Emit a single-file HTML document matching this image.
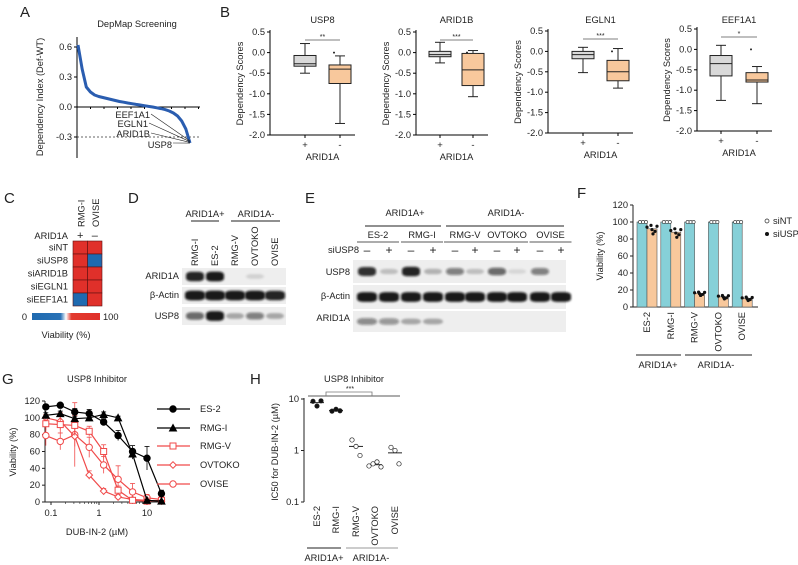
<!DOCTYPE html>
<html><head><meta charset="utf-8"><style>
html,body{margin:0;padding:0;background:#fff}
svg{display:block;font-family:"Liberation Sans",Arial,sans-serif}
</style></head><body>
<svg id="fig" width="798" height="565" viewBox="0 0 798 565" xmlns="http://www.w3.org/2000/svg">
<defs>
<filter id="blur" x="-30%" y="-60%" width="160%" height="220%"><feGaussianBlur stdDeviation="1.1"/></filter>
<linearGradient id="cbar" x1="0" x2="1" y1="0" y2="0">
<stop offset="0" stop-color="#1f6ab0"/><stop offset="0.42" stop-color="#2a72b6"/><stop offset="0.5" stop-color="#ffffff"/><stop offset="0.58" stop-color="#e23a2e"/><stop offset="1" stop-color="#e0302a"/></linearGradient>
</defs>
<g font-size="15" fill="#222">
<text x="20" y="17">A</text>
<text x="220" y="17">B</text>
<text x="4" y="203">C</text>
<text x="128" y="203">D</text>
<text x="305" y="203">E</text>
<text x="577" y="198">F</text>
<text x="2" y="384">G</text>
<text x="250" y="384">H</text>
</g>
<g id="pA"></g>
<g id="pB"></g>
<g id="pC"></g>
<g id="pD"></g>
<g id="pE"></g>
<g id="pF"></g>
<g id="pG"></g>
<g id="pH"></g>
</svg>
<script>
// ---------- DATA ----------
const depIndexValues = [0.62,0.38,0.2,0.15,0.12,0.105,0.095,0.085,0.075,0.065,0.055,0.048,0.04,0.033,0.026,0.02,0.013,0.006,0.0,-0.008,-0.016,-0.026,-0.04,-0.06,-0.09,-0.14,-0.22,-0.36];
const depTicks = [0.6,0.3,0.0,-0.3];
const depTickLabels = ["0.6","0.3","0.0","-0.3"];
const depGenes = ["EEF1A1","EGLN1","ARID1B","USP8"];

const boxGenes = ["USP8","ARID1B","EGLN1","EEF1A1"];
const boxSig = ["**","***","***","*"];
// [min,q1,median,q3,max]
const boxPlus = [[-0.5,-0.33,-0.27,-0.07,0.22],[-0.25,-0.1,-0.05,0.03,0.25],[-0.52,-0.18,-0.08,0.0,0.1],[-1.25,-0.65,-0.35,-0.15,0.1]];
const boxMinus = [[-1.72,-0.75,-0.4,-0.3,-0.08],[-1.07,-0.8,-0.42,-0.02,0.05],[-0.9,-0.72,-0.5,-0.22,0.07],[-1.33,-0.8,-0.75,-0.57,-0.42]];
const boxOutMinus = [0.0,0.0,0.0,0.0];
const boxTicks = [0.5,0.0,-0.5,-1.0,-1.5,-2.0];
const boxTickLabels = ["0.5","0.0","-0.5","-1.0","-1.5","-2.0"];

const heatRows = ["siNT","siUSP8","siARID1B","siEGLN1","siEEF1A1"];
const heatCols = ["RMG-I","OVISE"];
const heatVals = [[100,100],[100,0],[100,100],[100,100],[0,100]];

const fLines = ["ES-2","RMG-I","RMG-V","OVTOKO","OVISE"];
const fSiNT = [100,100,100,100,100];
const fSiUSP8 = [92,88,16,12,10];
const fTicks = [0,20,40,60,80,100,120];

const gConc = [0.078,0.156,0.3125,0.625,1.25,2.5,5,10,20];
const gNames = ["ES-2","RMG-I","RMG-V","OVTOKO","OVISE"];
const gES2 = [113,115,107,105,95,79,60,52,10];
const gRMGI = [103,105,99,100,104,100,57,2,1];
const gRMGV = [93,92,91,84,60,14,2,1,2];
const gOVTOKO = [100,96,78,32,13,6,3,2,1];
const gOVISE = [79,72,80,65,44,27,12,5,3];
const gErrES2 = [3,2,4,5,4,6,7,14,4];
const gErrRMGI = [3,3,3,4,3,2,6,1,1];
const gErrRMGV = [8,10,12,6,8,5,2,1,2];
const gErrOVTOKO = [4,10,12,5,3,3,2,1,1];
const gErrOVISE = [12,10,38,12,10,16,10,4,3];
const gTicks = [0,20,40,60,80,100,120];
const gXTicks = [0.1,1,10];
const gXTickLabels = ["0.1","1","10"];

const hLines = ["ES-2","RMG-I","RMG-V","OVTOKO","OVISE"];
const hPoints = [[9,7.3,9.2],[5.8,6.3,5.9],[1.6,1.2,0.8],[0.5,0.55,0.6,0.48],[1.15,1.0,0.55]];
const hMeans = [8.5,6.0,1.2,0.53,0.9];

// ---------- HELPERS ----------
const NS="http://www.w3.org/2000/svg";
const FS=9.3;
function mk(tag,parent,attrs){const e=document.createElementNS(NS,tag);for(const k in attrs)e.setAttribute(k,attrs[k]);parent.appendChild(e);return e;}
function txt(parent,x,y,s,size,anchor,attrs){const t=mk('text',parent,Object.assign({x:x,y:y,'font-size':size,'text-anchor':anchor||'start',fill:'#222'},attrs||{}));t.textContent=s;return t;}
function rtxt(parent,x,y,s,size,anchor){const t=txt(parent,0,0,s,size,anchor||'end',{transform:`translate(${x},${y}) rotate(-90)`});return t;}

// ---------- A ----------
(function(){
const g=document.getElementById('pA');
const ax=77, y0=107, k=100, xr=[78,190];
const y=v=>y0-v*k;
const x=i=>xr[0]+(xr[1]-xr[0])*i/(depIndexValues.length-1);
let t=txt(g,137,27,"DepMap  Screening",FS,'middle');

let l=mk('line',g,{x1:ax,y1:37,x2:ax,y2:158,stroke:'#000','stroke-width':1});

l=mk('line',g,{x1:ax,y1:y0,x2:200,y2:y0,stroke:'#000','stroke-width':1});

for(let i=0;i<10;i++){const tk=mk('line',g,{x1:ax+i*13.5,y1:y0,x2:ax+i*13.5,y2:y0+2,stroke:'#000'});}
l=mk('line',g,{x1:ax,y1:y(-0.3),x2:200,y2:y(-0.3),stroke:'#333','stroke-dasharray':'2,2','stroke-width':0.7});

depTicks.forEach((v,i)=>{const tk=mk('line',g,{x1:ax-3,y1:y(v),x2:ax,y2:y(v),stroke:'#000'});
const tl=txt(g,ax-5,y(v)+3,depTickLabels[i],FS,'end');});
const yl=rtxt(g,43,97,"Dependency Index  (Def-WT)",FS,'middle');
const p=mk('polyline',g,{points:depIndexValues.map((v,i)=>x(i)+','+y(v)).join(' '),fill:'none',stroke:'#2a5db0','stroke-width':3,'stroke-linejoin':'round'});

const ly=[118,127,137,148], lx=[150,148,150,172];
depGenes.forEach((s,i)=>{const tl=txt(g,lx[i],ly[i],s,FS,'end');
const ln=mk('line',g,{x1:lx[i]+1,y1:ly[i]-4+(i==3?-1:0),x2:190,y2:y(-0.3)+4+i*0.7,stroke:'#222','stroke-width':0.6});});
})();

// ---------- B ----------
(function(){
const g=document.getElementById('pB');
const axX=[270,416,548,697], y05=[32,32,31,29], yM2=[135,135,133,131], xp=[305,440,583,721], xm=[340,473,618,757];
boxGenes.forEach((gene,i)=>{
const y=v=>y05[i]+(0.5-v)*(yM2[i]-y05[i])/2.5;
let t=txt(g,(xp[i]+xm[i])/2,23,gene,FS,'middle');
let l=mk('line',g,{x1:axX[i],y1:y05[i]-2,x2:axX[i],y2:yM2[i],stroke:'#000'});
l=mk('line',g,{x1:axX[i],y1:yM2[i],x2:xm[i]+15,y2:yM2[i],stroke:'#000'});
boxTicks.forEach((v,j)=>{const tk=mk('line',g,{x1:axX[i]-3,y1:y(v),x2:axX[i],y2:y(v),stroke:'#000'});
const tl=txt(g,axX[i]-5,y(v)+3,boxTickLabels[j],FS,'end');});
const yl=rtxt(g,axX[i]-27,(y05[i]+yM2[i])/2,"Dependency Scores",FS,'middle');
[[xp[i],'+'],[xm[i],'-']].forEach(([xx,s])=>{const tk=mk('line',g,{x1:xx,y1:yM2[i],x2:xx,y2:yM2[i]+3,stroke:'#000'});
const tl=txt(g,xx,yM2[i]+13,s,9.5,'middle');});
const xl=txt(g,(xp[i]+xm[i])/2,yM2[i]+25,"ARID1A",FS,'middle');
const sl=mk('line',g,{x1:xp[i],y1:y(0.5)+8,x2:xm[i],y2:y(0.5)+8,stroke:'#555','stroke-width':0.8});
const st=txt(g,(xp[i]+xm[i])/2,y(0.5)+7,boxSig[i],7,'middle');
[[boxPlus[i],xp[i],'#d9d9d9','plus'],[boxMinus[i],xm[i],'#f8c89c','minus']].forEach(([s,xx,fill,nm])=>{
const w=11;
const wk=mk('line',g,{x1:xx,y1:y(s[4]),x2:xx,y2:y(s[0]),stroke:'#222'});
[s[0],s[4]].forEach(v=>{const c=mk('line',g,{x1:xx-5,y1:y(v),x2:xx+5,y2:y(v),stroke:'#222'});});
const r=mk('rect',g,{x:xx-w,y:y(s[3]),width:2*w,height:y(s[1])-y(s[3]),fill:fill,stroke:'#222'});
const m=mk('line',g,{x1:xx-w,y1:y(s[2]),x2:xx+w,y2:y(s[2]),stroke:'#222'});
});
const o=mk('circle',g,{cx:xm[i]-6,cy:y(boxOutMinus[i]),r:1,fill:'#222'});
});
})();

// ---------- C ----------
(function(){
const g=document.getElementById('pC');
const x0=73,cw=14.5,y0=241,rh=13;
const col=v=>v>50?'#e0302a':'#1f6ab0';
heatCols.forEach((c,j)=>{const t=rtxt(g,x0+cw*j+cw/2+4,227,c,FS,'start');});
let t=txt(g,68,239,"ARID1A",FS,'end');
t=txt(g,x0+cw/2,239,"+",11,'middle');
t=txt(g,x0+cw*1.5,239,"–",11,'middle');
heatRows.forEach((r,i)=>{const tl=txt(g,68,y0+rh*i+9.5,r,FS,'end');
heatVals[i].forEach((v,j)=>{const c=mk('rect',g,{x:x0+cw*j,y:y0+rh*i,width:cw,height:rh,fill:col(v),stroke:'#5a1010','stroke-width':0.6});});});
const b=mk('rect',g,{x:32,y:313,width:68,height:7,fill:'url(#cbar)'});
t=txt(g,27,320,"0",FS,'end');
t=txt(g,103,320,"100",FS,'start');
t=txt(g,66,338,"Viability (%)",FS,'middle');
})();

// ---------- Western blot helper ----------
function blotRow(g,x0,x1,y0,h,lanes,intens,bw,name){
const bg=mk('rect',g,{x:x0,y:y0,width:x1-x0,height:h,fill:'#eeeeee'});
lanes.forEach((lx,i)=>{if(intens[i]<=0)return;const a=intens[i];
const e=mk('rect',g,{x:lx-bw,y:y0+h/2-(2+a*3),width:2*bw,height:2*(2+a*3),rx:bw*0.6,ry:3,fill:'#111','fill-opacity':a,filter:'url(#blur)'});});
}

// ---------- D ----------
(function(){
const g=document.getElementById('pD');
const lanes=[195,215,235,255,275], names=["RMG-I","ES-2","RMG-V","OVTOKO","OVISE"];
let t=txt(g,205,217,"ARID1A+",FS,'middle');
t=txt(g,256,217,"ARID1A-",FS,'middle');
let l=mk('line',g,{x1:191,y1:221,x2:219,y2:221,stroke:'#222'});
l=mk('line',g,{x1:231,y1:221,x2:280,y2:221,stroke:'#222'});
names.forEach((n,i)=>{const tl=rtxt(g,lanes[i]+3,266,n,FS,'start');});
blotRow(g,182,286,268,17,lanes,[0.9,0.95,0,0.12,0],9,'d-arid1a');
blotRow(g,182,286,287,17,lanes,[0.95,0.95,0.95,0.95,0.9],10,'d-actin');
blotRow(g,182,286,307,18,lanes,[0.6,0.95,0.3,0.5,0.3],9,'d-usp8');
[["ARID1A",279],["β-Actin",298],["USP8",319]].forEach(([s,yy])=>{const tl=txt(g,179,yy,s,FS,'end');});
})();

// ---------- E ----------
(function(){
const g=document.getElementById('pE');
const lanes=[367,389,411,433,455,475,497,517,540,561];
let t=txt(g,405,216,"ARID1A+",FS,'middle');
t=txt(g,506,216,"ARID1A-",FS,'middle');
let l=mk('line',g,{x1:365,y1:226,x2:441,y2:226,stroke:'#222'});
l=mk('line',g,{x1:446,y1:226,x2:564,y2:226,stroke:'#222'});
const cl=["ES-2","RMG-I","RMG-V","OVTOKO","OVISE"];
cl.forEach((n,i)=>{const cx=(lanes[2*i]+lanes[2*i+1])/2;const tl=txt(g,cx,238,n,FS,'middle');
const ln=mk('line',g,{x1:cx-21,y1:242,x2:cx+21,y2:242,stroke:'#222','stroke-width':0.8});});
t=txt(g,359,253,"siUSP8",FS,'end');
lanes.forEach((x,i)=>{const tl=txt(g,x,254,i%2?"+":"–",12,'middle');});
blotRow(g,353,566,260,23,lanes,[0.85,0.2,0.9,0.25,0.5,0.2,0.6,0.1,0.5,0],9,'e-usp8');
blotRow(g,353,566,285,24,lanes,[0.95,0.95,0.95,0.95,0.95,0.95,0.95,0.95,0.95,0.95],10,'e-actin');
blotRow(g,353,566,311,21,lanes,[0.45,0.4,0.3,0.3,0,0,0,0,0,0],10,'e-arid1a');
[["USP8",275],["β-Actin",299],["ARID1A",321]].forEach(([s,yy])=>{const tl=txt(g,350,yy,s,FS,'end');});
})();

// ---------- F ----------
(function(){
const g=document.getElementById('pF');
const ax=633, y=v=>307-v*102/120, x0=647, step=23.8, bw=10;
let l=mk('line',g,{x1:ax,y1:y(120),x2:ax,y2:307,stroke:'#222'});
l=mk('line',g,{x1:ax,y1:307,x2:758,y2:307,stroke:'#222'});
fTicks.forEach(v=>{const tk=mk('line',g,{x1:ax-3,y1:y(v),x2:ax,y2:y(v),stroke:'#222'});
const tl=txt(g,ax-5,y(v)+3,String(v),FS,'end');});
const yl=rtxt(g,603,256,"Viability  (%)",FS,'middle');
fLines.forEach((n,i)=>{const cx=x0+i*step;
const b1=mk('rect',g,{x:cx-bw,y:y(fSiNT[i]),width:bw,height:307-y(fSiNT[i]),fill:'#86d0d8',stroke:'#555','stroke-width':0.6});
const b2=mk('rect',g,{x:cx,y:y(fSiUSP8[i]),width:bw,height:307-y(fSiUSP8[i]),fill:'#f8c89c',stroke:'#555','stroke-width':0.6});
[-7,-4,-1].forEach(d=>{const c=mk('circle',g,{cx:cx+d,cy:y(fSiNT[i]),r:1.6,fill:'#fff',stroke:'#222','stroke-width':0.6});});
[[-2,2],[2,4],[6,-3],[4,-6],[8,3],[3,-1]].forEach(([dx,dv])=>{const c=mk('circle',g,{cx:cx+2+dx,cy:y(fSiUSP8[i]+dv*(i<2?1:0.4)),r:1.6,fill:'#111'});});
const tl=rtxt(g,cx+3,312,n,FS,'end');});
l=mk('line',g,{x1:636,y1:355,x2:681,y2:355,stroke:'#222'});
l=mk('line',g,{x1:685,y1:355,x2:752,y2:355,stroke:'#222'});
let t=txt(g,658,368,"ARID1A+",FS,'middle');
t=txt(g,716,368,"ARID1A-",FS,'middle');
let c=mk('circle',g,{cx:767,cy:221,r:2,fill:'#fff',stroke:'#222','stroke-width':0.7});
t=txt(g,773,224,"siNT",FS);
c=mk('circle',g,{cx:767,cy:234,r:2,fill:'#111'});
t=txt(g,773,237,"siUSP8",FS);
})();

// ---------- G ----------
(function(){
const g=document.getElementById('pG');
const x=c=>51+48*Math.log10(c/0.1), y=v=>502-v*101/120;
let t=txt(g,97,382,"USP8 Inhibitor",FS,'middle');
let l=mk('line',g,{x1:45,y1:y(120),x2:45,y2:502,stroke:'#222'});
l=mk('line',g,{x1:45,y1:502,x2:164,y2:502,stroke:'#222'});
gTicks.forEach(v=>{const tk=mk('line',g,{x1:42,y1:y(v),x2:45,y2:y(v),stroke:'#222'});
const tl=txt(g,40,y(v)+3,String(v),FS,'end');});
gXTicks.forEach((v,i)=>{const tk=mk('line',g,{x1:x(v),y1:502,x2:x(v),y2:505,stroke:'#222'});
for(let m=2;m<10;m++){const c=v*m;if(x(c)<164){const mt=mk('line',g,{x1:x(c),y1:502,x2:x(c),y2:504,stroke:'#222','stroke-width':0.6});}}
const tl=txt(g,x(v),516,gXTickLabels[i],FS,'middle');});
t=txt(g,97,535,"DUB-IN-2 (µM)",FS,'middle');
const yl=rtxt(g,16,452,"Viability (%)",FS,'middle');
const series=[[gES2,gErrES2,'#000','circle',true],[gRMGI,gErrRMGI,'#000','tri',true],[gRMGV,gErrRMGV,'#f04a4a','square',false],[gOVTOKO,gErrOVTOKO,'#f04a4a','diamond',false],[gOVISE,gErrOVISE,'#f04a4a','circle',false]];
function marker(cx,cy,shape,col,filled,nm){let e;const f=filled?col:'#fff';
if(shape=='circle')e=mk('circle',g,{cx:cx,cy:cy,r:3.2,fill:f,stroke:col,'stroke-width':1});
else if(shape=='tri')e=mk('polygon',g,{points:`${cx},${cy-3.5} ${cx+3.5},${cy+3} ${cx-3.5},${cy+3}`,fill:f,stroke:col});
else if(shape=='square')e=mk('rect',g,{x:cx-3,y:cy-3,width:6,height:6,fill:f,stroke:col,'stroke-width':1});
else e=mk('polygon',g,{points:`${cx},${cy-3.3} ${cx+3.3},${cy} ${cx},${cy+3.3} ${cx-3.3},${cy}`,fill:f,stroke:col,'stroke-width':1});
}
series.slice().reverse().forEach(([vals,errs,col,shape,filled],ri)=>{const si=series.length-1-ri;const nm='g-'+gNames[si].toLowerCase();
vals.forEach((v,i)=>{const eb=mk('line',g,{x1:x(gConc[i]),y1:y(v+errs[i]),x2:x(gConc[i]),y2:y(Math.max(0,v-errs[i])),stroke:col,'stroke-width':0.8});
[v+errs[i]].forEach(e=>{const cp=mk('line',g,{x1:x(gConc[i])-2.5,y1:y(e),x2:x(gConc[i])+2.5,y2:y(e),stroke:col,'stroke-width':0.8});});});
const pl=mk('polyline',g,{points:vals.map((v,i)=>x(gConc[i])+','+y(v)).join(' '),fill:'none',stroke:col,'stroke-width':1.2});
vals.forEach((v,i)=>marker(x(gConc[i]),y(v),shape,col,filled,nm+'-point'));
});
const ly=[409,428,446,465,484];
series.forEach(([v,e,col,shape,filled],i)=>{const ll=mk('line',g,{x1:157,y1:ly[i],x2:190,y2:ly[i],stroke:col,'stroke-width':1.2});
marker(173,ly[i],shape,col,filled,'g-legend-marker');
const tl=txt(g,200,ly[i]+3,gNames[i],FS);});
})();

// ---------- H ----------
(function(){
const g=document.getElementById('pH');
const ax=304, y=v=>502-(Math.log10(v)+1)*51.5, xs=[317,336,356,375,395];
let t=txt(g,354,382,"USP8 Inhibitor",FS,'middle');
let l=mk('line',g,{x1:ax,y1:y(10)-1,x2:ax,y2:502,stroke:'#222'});
[[0.1,"0.1"],[1,"1"],[10,"10"]].forEach(([v,s])=>{const tk=mk('line',g,{x1:ax-3,y1:y(v),x2:ax,y2:y(v),stroke:'#222'});
const tl=txt(g,ax-5,y(v)+3,s,FS,'end');});
const yl=rtxt(g,278,452,"IC50 for DUB-IN-2 (µM)",FS,'middle');
l=mk('line',g,{x1:308,y1:396,x2:400,y2:396,stroke:'#222','stroke-width':0.8});
l=mk('polyline',g,{points:'326,396 326,392 372,392 372,396',fill:'none',stroke:'#777','stroke-width':0.8});
t=txt(g,350,391,"***",7,'middle');
hLines.forEach((n,i)=>{const filled=i<2;
const m=mk('line',g,{x1:xs[i]-7,y1:y(hMeans[i]),x2:xs[i]+7,y2:y(hMeans[i]),stroke:'#222'});
hPoints[i].forEach((v,j)=>{const dx=(j-(hPoints[i].length-1)/2)*4;const c=mk('circle',g,{cx:xs[i]+dx,cy:y(v),r:2.2,fill:filled?'#111':'#fff',stroke:'#222','stroke-width':0.7});});
const tl=rtxt(g,xs[i]+3,506,n,FS,'end');});
l=mk('line',g,{x1:307,y1:548,x2:341,y2:548,stroke:'#222'});
l=mk('line',g,{x1:346,y1:548,x2:398,y2:548,stroke:'#999'});
t=txt(g,324,561,"ARID1A+",FS,'middle');
t=txt(g,371,561,"ARID1A-",FS,'middle');
})();
</script>
</body></html>
